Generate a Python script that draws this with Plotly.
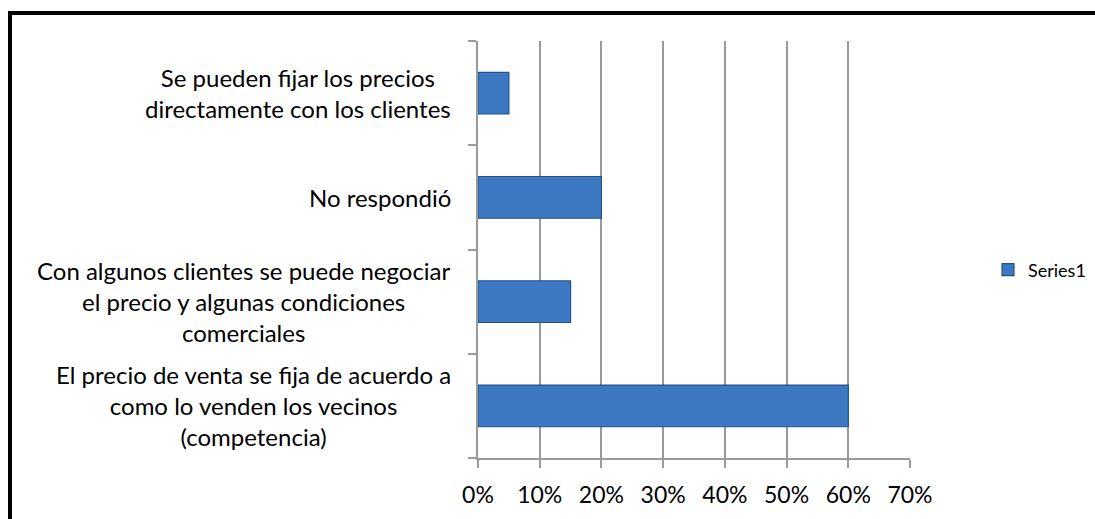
import plotly.graph_objects as go

# Survey answers on how sale prices are set (bottom to top)
categories = [
    "El precio de venta se fija de acuerdo a<br>como lo venden los vecinos<br>(competencia)",
    "Con algunos clientes se puede negociar<br>el precio y algunas condiciones<br>comerciales",
    "No respondió",
    "Se pueden fijar los precios<br>directamente con los clientes",
]
values = [0.60, 0.15, 0.20, 0.05]
series_name = "Series1"
x_ticks = [0, 0.1, 0.2, 0.3, 0.4, 0.5, 0.6, 0.7]
x_tick_labels = ["0%", "10%", "20%", "30%", "40%", "50%", "60%", "70%"]

W, H = 1095, 519
ML, MR, MT, MB = 478, 185, 41, 61
plot_w = W - ML - MR
plot_h = H - MT - MB

font_family = "Lato, Open Sans, sans-serif"
FS = 24

fig = go.Figure()
fig.add_trace(go.Bar(
    y=list(range(len(categories))),
    x=values,
    orientation="h",
    name=series_name,
    marker=dict(color="#3D78C2", line=dict(color="#24528C", width=1.2)),
    showlegend=True,
))

# category labels: block right-aligned beside the axis, lines centred
annotations = []
for i, cat in enumerate(categories):
    annotations.append(dict(
        x=-(478 - 453) / plot_w, xref="paper", xanchor="right",
        y=i, yref="y", yanchor="middle",
        text=cat, showarrow=False, align="center",
        font=dict(family=font_family, size=FS, color="black"),
    ))

# chart frame (left and top edges visible)
shapes = [dict(
    type="rect", xref="paper", yref="paper",
    x0=(10 - ML) / plot_w, x1=2.0,
    y0=-1.0, y1=1 + (MT - 13) / plot_h,
    line=dict(color="black", width=4), fillcolor="rgba(0,0,0,0)",
    layer="above",
)]

fig.update_layout(
    width=W, height=H,
    margin=dict(l=ML, r=MR, t=MT, b=MB, autoexpand=False),
    paper_bgcolor="white", plot_bgcolor="white",
    bargap=0.6,
    font=dict(family=font_family, size=FS, color="black"),
    annotations=annotations,
    shapes=shapes,
    legend=dict(
        x=1 + (988 - (W - MR)) / plot_w, xanchor="left",
        y=(458 - 270) / plot_h, yanchor="middle",
        font=dict(family=font_family, size=18, color="black"),
        bgcolor="rgba(0,0,0,0)", itemwidth=30,
    ),
    xaxis=dict(
        range=[0, 0.7], tickvals=x_ticks, ticktext=x_tick_labels,
        showgrid=True, gridcolor="#9a9a9a", gridwidth=2,
        showline=True, linecolor="#9a9a9a", linewidth=2,
        ticks="outside", ticklen=8, tickwidth=2, tickcolor="#9a9a9a",
        ticklabelstandoff=7,
        zeroline=False, fixedrange=True,
        tickfont=dict(family=font_family, size=23, color="black"),
    ),
    yaxis=dict(
        range=[-0.5, len(categories) - 0.5],
        tickvals=[i - 0.5 for i in range(len(categories) + 1)],
        showticklabels=False, showgrid=False,
        showline=True, linecolor="#9a9a9a", linewidth=2,
        ticks="outside", ticklen=8, tickwidth=2, tickcolor="#9a9a9a",
        zeroline=False, fixedrange=True,
    ),
)

fig.write_html("out.html")
